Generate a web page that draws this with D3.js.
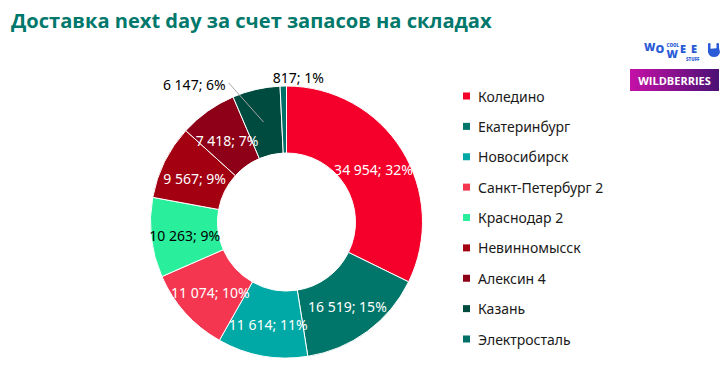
<!DOCTYPE html>
<meta charset="utf-8">
<script src="https://d3js.org/d3.v7.min.js"></script>
<body style="margin:0;background:#fff">
<svg id="chart" width="725" height="370"></svg>
<script>
// data
var warehouses = ["Коледино", "Екатеринбург", "Новосибирск", "Санкт-Петербург 2", "Краснодар 2",
                  "Невинномысск", "Алексин 4", "Казань", "Электросталь"];
var volumes = [34954, 16519, 11614, 11074, 10263, 9567, 7418, 6147, 817];
var colors = ["#F5002A", "#00766A", "#00A9A5", "#F43651", "#29EE9B",
              "#A30012", "#8E0017", "#004B40", "#007069"];
var titleText = "Доставка next day за счет запасов на складах";

var svg = d3.select("#chart");
var cx = 286.5, cy = 222, rOut = 136, rIn = 69;
var font = "'Noto Sans', 'Open Sans', sans-serif";

// title, fitted to the width it has in the picture
var title = svg.append("text")
    .attr("x", 11).attr("y", 28)
    .attr("fill", "#00786B")
    .style("font-family", "'Open Sans', sans-serif")
    .style("font-weight", "bold")
    .style("font-size", "22px")
    .text(titleText);
var tw = title.node().getComputedTextLength();
title.style("font-size", (22 * 481 / tw) + "px");

var total = d3.sum(volumes);
var rows = warehouses.map(function(n, i){ return {name: n, value: volumes[i], color: colors[i], i: i}; });

var pie = d3.pie().sort(null).value(function(d){ return d.value; });
var arc = d3.arc().innerRadius(rIn).outerRadius(rOut);
var arcs = pie(rows);

var g = svg.append("g").attr("transform", "translate(" + cx + "," + cy + ")");

g.selectAll("path.slice").data(arcs).enter()
    .append("path")
    .attr("class", "slice")
    .attr("d", arc)
    .attr("fill", function(d){ return d.data.color; })
    .attr("stroke", "#fff")
    .attr("stroke-width", 1);

function fmt(v){ return d3.format(",")(v).replace(/,/g, " "); }
function labelText(d){ return fmt(d.data.value) + "; " + Math.round(d.data.value / total * 100) + "%"; }

// inside labels for the big slices, outside for the two small ones
var inside = arcs.filter(function(d){ return d.data.value / total > 0.065; });
var outside = arcs.filter(function(d){ return d.data.value / total <= 0.065; });

g.selectAll("text.lab").data(inside).enter()
    .append("text")
    .attr("class", "lab")
    .attr("transform", function(d){ var c = arc.centroid(d); return "translate(" + c[0] + "," + (c[1] + 2) + ")"; })
    .attr("text-anchor", "middle")
    .attr("dominant-baseline", "central")
    .attr("fill", function(d){ return d.data.name === "Краснодар 2" ? "#000" : "#fff"; })
    .style("font-family", font)
    .style("font-size", "14px")
    .text(labelText);

// outside labels (Excel pushes them sideways to avoid overlap)
var shift = [-11, 6];
outside.forEach(function(d, k){
    var mid = (d.startAngle + d.endAngle) / 2;
    var c = arc.centroid(d);
    if (k === 0) {
        var a = mid + shift[0] * Math.PI / 180, r = 150;
        var lx = r * Math.sin(a), ly = -r * Math.cos(a);
        g.append("line")
            .attr("x1", lx + 3).attr("y1", ly - 2).attr("x2", c[0]).attr("y2", c[1])
            .attr("stroke", "#a6a6a6").attr("stroke-width", 1);
        g.append("text")
            .attr("x", lx).attr("y", ly)
            .attr("text-anchor", "end").attr("dominant-baseline", "central")
            .attr("fill", "#000").style("font-family", font).style("font-size", "14px")
            .text(labelText(d));
    } else {
        var a2 = mid + shift[1] * Math.PI / 180, r2 = 145;
        g.append("text")
            .attr("x", r2 * Math.sin(a2)).attr("y", -r2 * Math.cos(a2))
            .attr("text-anchor", "middle").attr("dominant-baseline", "central")
            .attr("fill", "#000").style("font-family", font).style("font-size", "14px")
            .text(labelText(d));
    }
});

// legend
var ly = d3.scalePoint().domain(warehouses).range([96, 339]);
var leg = svg.append("g").selectAll("g").data(rows).enter().append("g")
    .attr("transform", function(d){ return "translate(463," + ly(d.name) + ")"; });
leg.append("rect").attr("x", 0).attr("y", -3.5).attr("width", 7).attr("height", 7)
    .attr("fill", function(d){ return d.color; });
leg.append("text").attr("x", 15).attr("y", 0).attr("dominant-baseline", "central")
    .attr("fill", "#1a1a1a").style("font-family", font).style("font-size", "14px")
    .text(function(d){ return d.name; });

// logos
var blue = "#2a5bd7";
var logo = svg.append("g").attr("fill", blue).style("font-family", "'Open Sans', sans-serif").style("font-weight", "800");
logo.append("text").attr("x", 644).attr("y", 51).style("font-size", "11px").text("W");
logo.append("text").attr("x", 655.5).attr("y", 53).style("font-size", "11px").text("O");
logo.append("text").attr("x", 666.5).attr("y", 58).style("font-size", "11px").text("W");
logo.append("text").attr("x", 666.5).attr("y", 46.5).style("font-size", "4.5px").text("COOL");
logo.append("text").attr("x", 680).attr("y", 52.5).style("font-size", "11px").text("E");
logo.append("text").attr("x", 691).attr("y", 52.5).style("font-size", "11px").text("E");
logo.append("text").attr("x", 686).attr("y", 60.5).style("font-size", "4.5px").text("STUFF");
// hand icon
var hand = svg.append("g").attr("transform", "translate(708,43)").attr("fill", blue);
hand.append("rect").attr("x", 0).attr("y", 0).attr("width", 2.5).attr("height", 8).attr("rx", 1.2);
hand.append("rect").attr("x", 8.5).attr("y", 0).attr("width", 2.5).attr("height", 8).attr("rx", 1.2);
hand.append("path").attr("d", "M0,6 L11,5 L12,9 Q11,14 6,14 Q1,14 0,9 Z");

var grad = svg.append("defs").append("linearGradient").attr("id", "wb").attr("x1", "0").attr("x2", "1");
grad.append("stop").attr("offset", "0").attr("stop-color", "#c511a6");
grad.append("stop").attr("offset", "1").attr("stop-color", "#4b1175");
svg.append("rect").attr("x", 630).attr("y", 69).attr("width", 89).attr("height", 22).attr("fill", "url(#wb)");
svg.append("text").attr("x", 674.5).attr("y", 80.5).attr("text-anchor", "middle").attr("dominant-baseline", "central")
    .attr("fill", "#fff").style("font-family", "'Open Sans', sans-serif").style("font-weight", "bold").style("font-size", "11px")
    .text("WILDBERRIES");
</script>
</body>
